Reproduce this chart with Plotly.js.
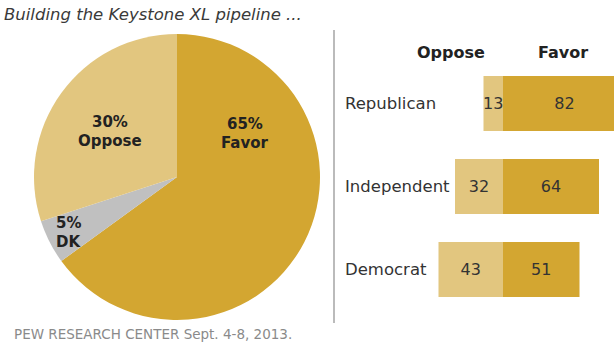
<!DOCTYPE html>
<html>
<head>
<meta charset="utf-8">
<script src="https://cdn.plot.ly/plotly-3.0.1.min.js"></script>
<style>html,body{margin:0;padding:0;background:#fff}#chart{width:614px;height:353px}</style>
</head>
<body>
<div id="chart"></div>
<script>
// ---- data ----
const pieLabels = ["Favor", "DK", "Oppose"];
const pieValues = [65, 5, 30];
const groups = ["Republican", "Independent", "Democrat"];
const opposeVals = [13, 32, 43];
const favorVals = [82, 64, 51];
const titleText = "Building the Keystone XL pipeline ...";
const sourceText = "PEW RESEARCH CENTER Sept. 4-8, 2013.";

// ---- styles ----
const W = 614, H = 353;
const px = v => v / W;
const py = v => (H - v) / H;
const cFavor = "#D3A631", cOppose = "#E2C67F", cDK = "#C0C0C0";
const font = "DejaVu Sans, Verdana, sans-serif";
// label centre positions (pixels) for pie slice labels
const pieLabelPos = {Favor: [245, 124], DK: [68, 223], Oppose: [110, 122]};

const traces = [
  {
    type: "pie", labels: pieLabels, values: pieValues, sort: false,
    direction: "clockwise", rotation: 0,
    marker: {colors: [cFavor, cDK, cOppose], line: {width: 0}},
    textinfo: "none", hoverinfo: "none",
    domain: {x: [px(34), px(320)], y: [py(320), py(34)]}
  },
  {
    type: "bar", orientation: "h", y: groups, x: opposeVals.map(v => -v),
    text: opposeVals.map(String), textposition: "inside", insidetextanchor: "middle",
    textangle: 0, constraintext: "none", textfont: {family: font, size: 16, color: "#333"},
    marker: {color: cOppose, line: {width: 0}}, width: 0.66, hoverinfo: "none",
    xaxis: "x", yaxis: "y"
  },
  {
    type: "bar", orientation: "h", y: groups, x: favorVals,
    text: favorVals.map(String), textposition: "inside", insidetextanchor: "middle",
    textangle: 0, constraintext: "none", textfont: {family: font, size: 16, color: "#333"},
    marker: {color: cFavor, line: {width: 0}}, width: 0.66, hoverinfo: "none",
    xaxis: "x", yaxis: "y"
  }
];

const annotations = [
  {text: titleText, xref: "paper", yref: "paper", x: px(2), y: py(15), xanchor: "left", yanchor: "middle",
   showarrow: false, font: {family: font, size: 16.5, color: "#3a3a3a", style: "italic"}},
  {text: sourceText, xref: "paper", yref: "paper", x: px(12), y: py(334), xanchor: "left", yanchor: "middle",
   showarrow: false, font: {family: font, size: 13.5, color: "#8a8a8a"}},
  {text: "<b>Oppose</b>", xref: "paper", yref: "paper", x: px(451), y: py(53), xanchor: "center", yanchor: "middle",
   showarrow: false, font: {family: font, size: 16, color: "#222"}},
  {text: "<b>Favor</b>", xref: "paper", yref: "paper", x: px(563), y: py(53), xanchor: "center", yanchor: "middle",
   showarrow: false, font: {family: font, size: 16, color: "#222"}}
];
pieLabels.forEach((lab, i) => {
  const p = pieLabelPos[lab];
  annotations.push({text: "<b>" + pieValues[i] + "%</b>", xref: "paper", yref: "paper", x: px(p[0]), y: py(p[1]),
    xanchor: "center", yanchor: "middle", showarrow: false, font: {family: font, size: 15, color: "#222"}});
  annotations.push({text: "<b>" + lab + "</b>", xref: "paper", yref: "paper", x: px(p[0]), y: py(p[1] + 19),
    xanchor: "center", yanchor: "middle", showarrow: false, font: {family: font, size: 15, color: "#222"}});
});
groups.forEach(g => {
  annotations.push({text: g, xref: "paper", yref: "y", x: px(343), y: g, xanchor: "left", yanchor: "middle",
    showarrow: false, font: {family: font, size: 16.5, color: "#333"}});
});

const layout = {
  width: W, height: H, margin: {l: 0, r: 0, t: 0, b: 0},
  paper_bgcolor: "#fff", plot_bgcolor: "rgba(0,0,0,0)",
  showlegend: false, barmode: "relative", hovermode: false,
  xaxis: {domain: [px(340), 1], range: [-108.67, 74], visible: false, fixedrange: true},
  yaxis: {domain: [py(311), py(62)], range: [2.5, -0.5], visible: false, fixedrange: true,
          type: "category", categoryorder: "array", categoryarray: groups},
  shapes: [{type: "line", xref: "paper", yref: "paper", x0: px(334), x1: px(334), y0: py(323), y1: py(30),
            line: {color: "#bbbbbb", width: 2}}],
  annotations: annotations
};

Plotly.newPlot("chart", traces, layout, {staticPlot: true, displayModeBar: false});
</script>
</body>
</html>
